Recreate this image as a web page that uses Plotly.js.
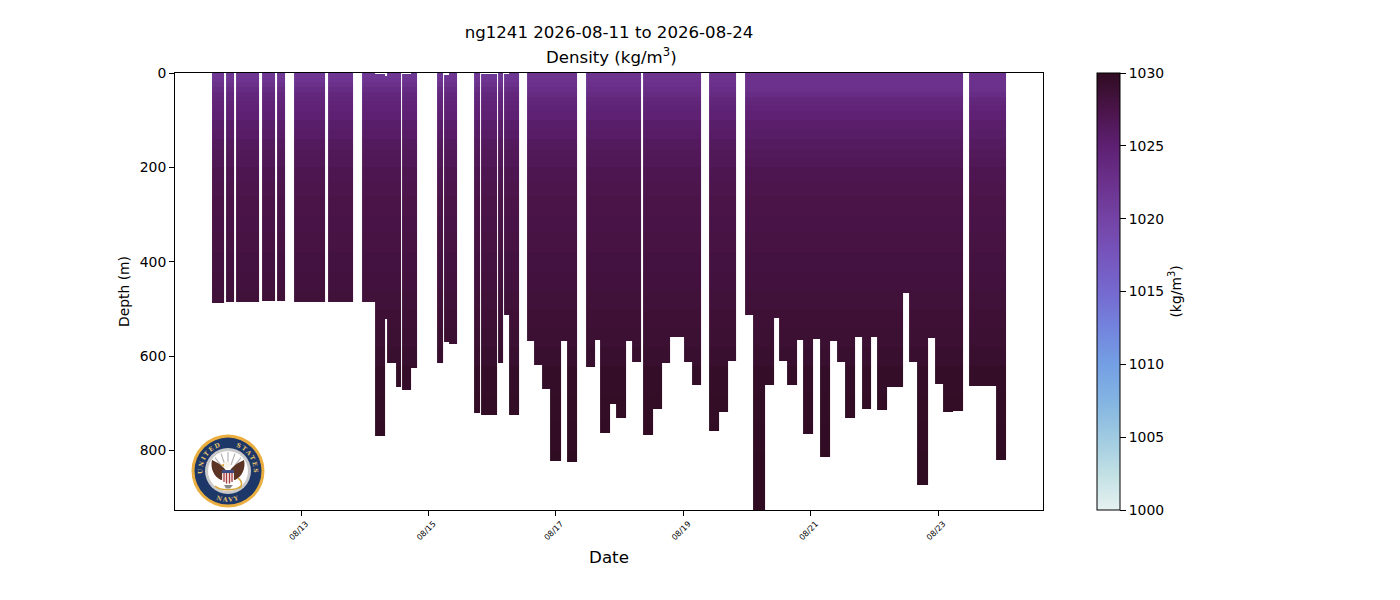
<!DOCTYPE html>
<html>
<head>
<meta charset="utf-8">
<script src="https://cdn.plot.ly/plotly-3.0.1.min.js"></script>
<style>html,body{margin:0;padding:0;background:#fff}</style>
</head>
<body>
<div id="chart" style="width:1400px;height:600px"></div>
<script>
// Profile blocks: start / end as decimal day of August 2026, top and bottom depth in metres
const segStart = [11.604,11.823,11.980,12.388,12.623,12.890,13.423,13.957,14.161,14.318,14.349,14.490,14.585,14.726,15.134,15.244,15.322,15.714,15.824,16.091,16.185,16.263,16.546,16.656,16.781,16.907,17.079,17.173,17.472,17.613,17.699,17.848,17.942,18.099,18.193,18.366,18.523,18.664,18.789,19.009,19.135,19.402,19.558,19.699,19.966,20.092,20.280,20.421,20.500,20.625,20.782,20.876,21.033,21.143,21.300,21.410,21.535,21.692,21.802,21.943,22.037,22.194,22.445,22.540,22.665,22.838,22.947,23.073,23.230,23.481,23.905];
const segEnd   = [11.792,11.949,12.341,12.592,12.749,13.376,13.816,14.161,14.318,14.349,14.490,14.569,14.726,14.820,15.228,15.322,15.447,15.809,16.075,16.169,16.263,16.420,16.656,16.781,16.907,17.079,17.173,17.338,17.613,17.699,17.848,17.942,18.099,18.193,18.334,18.523,18.664,18.789,19.009,19.135,19.276,19.558,19.699,19.825,20.092,20.280,20.421,20.500,20.625,20.782,20.876,21.033,21.143,21.300,21.410,21.535,21.692,21.802,21.943,22.037,22.194,22.445,22.540,22.665,22.838,22.947,23.073,23.230,23.387,23.905,24.062];
const segBottom = [487,486,486,484,483,485,485,485,770,522,615,665,672,625,615,570,575,721,725,615,513,725,568,618,670,822,568,824,622,565,763,702,730,567,613,767,712,615,560,613,662,759,719,611,513,925,661,520,611,662,566,765,564,814,568,613,731,560,711,560,714,666,467,612,873,562,658,718,716,663,820];
const segTop = [0,0,0,0,0,0,0,0,3,6,1,0,3,1,0,4,0,0,2,0,3,0,0,0,0,0,0,0,0,0,0,0,0,0,0,0,0,0,0,0,0,0,0,0,0,0,0,0,0,0,0,0,0,0,0,0,0,0,0,0,0,0,0,0,0,0,0,0,0,0,0];

// Density read at each depth, for the early, middle and late parts of the mission
const depthKnots   = [0,10,20,30,40,50,60,70,80,100,120,140,160,180,200,230,260,300,340,380,420,460,500,540,580,620,680,740,800,860];
const densityEarly = [1021.7,1022.0,1022.7,1023.4,1023.9,1024.2,1024.5,1024.7,1025.0,1025.5,1025.8,1026.2,1026.5,1026.7,1027.0,1027.3,1027.5,1027.7,1027.9,1028.1,1028.3,1028.5,1028.7,1028.9,1029.2,1029.6,1029.8,1029.9,1030.0,1030.0];
const densityMid   = [1022.2,1022.3,1022.6,1023.0,1023.5,1024.1,1024.4,1024.6,1024.9,1025.5,1025.8,1026.2,1026.5,1026.7,1027.0,1027.3,1027.5,1027.7,1027.9,1028.1,1028.3,1028.5,1028.7,1028.9,1029.2,1029.6,1029.8,1029.9,1030.0,1030.0];
const densityLate  = [1022.4,1022.5,1022.5,1022.7,1023.2,1024.0,1024.3,1024.5,1024.8,1025.4,1025.7,1026.1,1026.4,1026.7,1027.0,1027.3,1027.5,1027.7,1027.9,1028.1,1028.3,1028.5,1028.7,1028.9,1029.2,1029.6,1029.8,1029.9,1030.0,1030.0];
const midStartsDay  = 16.5;
const lateStartsDay = 19.9;

const tickDays   = ['2026-08-13','2026-08-15','2026-08-17','2026-08-19','2026-08-21','2026-08-23'];
const tickLabels = ['08/13','08/15','08/17','08/19','08/21','08/23'];
const depthRange = [926, 0];
const dateRange  = [11.023, 24.642];
const colorMin = 1000, colorMax = 1030;
const denseScale = [
  [0,'#e6f1f1'],[0.0833,'#c1e0e4'],[0.1667,'#9fcae1'],[0.25,'#83b4e2'],[0.3333,'#749fe4'],
  [0.4167,'#7384dd'],[0.5,'#7569cf'],[0.5833,'#7655bc'],[0.6667,'#7443a5'],[0.75,'#6b318c'],
  [0.8333,'#5d2072'],[0.9167,'#4a1449'],[1,'#300c22']];

const dayToIso = d => new Date(Date.UTC(2026,7,1) + (d-1)*86400000).toISOString().slice(0,19);

const xEdges = Array.from(new Set(segStart.concat(segEnd))).sort((a,b)=>a-b);
const yEdges = Array.from(new Set(depthKnots.concat(segBottom, segTop, [depthRange[0]]))).sort((a,b)=>a-b);

function densityAt(set, depth){
  let k = 0;
  for (let i=0;i<depthKnots.length;i++){ if (depthKnots[i] <= depth) k = i; }
  return set[k];
}
const z = [];
for (let r=0;r<yEdges.length-1;r++){
  const depth = (yEdges[r]+yEdges[r+1])/2, row = [];
  for (let c=0;c<xEdges.length-1;c++){
    const mid = (xEdges[c]+xEdges[c+1])/2;
    let val = null;
    for (let s=0;s<segStart.length;s++){
      if (mid>=segStart[s] && mid<segEnd[s] && depth<segBottom[s] && depth>=segTop[s]){
        const set = mid<midStartsDay ? densityEarly : (mid<lateStartsDay ? densityMid : densityLate);
        val = densityAt(set, depth);
      }
    }
    row.push(val);
  }
  z.push(row);
}

const seal = `<svg xmlns="http://www.w3.org/2000/svg" viewBox="0 0 148 148" width="296" height="296">
<defs><path id="a" d="M 26 92 A 51.3 51.3 0 1 1 122 92"/><path id="b" d="M 40 125 A 61.3 61.3 0 0 0 108 125"/></defs>
<circle cx="74" cy="74" r="73" fill="#e9ae3f"/><circle cx="74" cy="74" r="67" fill="#1c3768"/>
<circle cx="74" cy="74" r="46" fill="#c9c9c9"/><circle cx="74" cy="74" r="40" fill="#fff"/>
<g stroke="#b5b5b5" stroke-width="2.4"><path d="M74 36V62M60 39L68 62M88 39L80 62M48 47L62 65M100 47L86 65"/></g>
<text font-family="DejaVu Serif" font-weight="bold" font-size="12" fill="#e9c46a" letter-spacing="3"><textPath href="#a" startOffset="50%" text-anchor="middle">UNITED&#160;&#160;&#160;&#160;STATES</textPath></text>
<text font-family="DejaVu Serif" font-weight="bold" font-size="12" fill="#e9c46a" letter-spacing="3"><textPath href="#b" startOffset="50%" text-anchor="middle">NAVY</textPath></text>
<path d="M72 76C64 62 50 56 42 52C38 68 46 86 60 92L72 90Z" fill="#5b3426"/>
<path d="M76 76C84 62 98 56 106 52C110 68 102 86 88 92L76 90Z" fill="#5b3426"/>
<circle cx="72" cy="62" r="7" fill="#f6f3ea"/><path d="M66 60L58 62L66 65Z" fill="#d9a63a"/>
<path d="M62 72H86V92L74 100L62 92Z" fill="#f3e4e2"/><path d="M62 72H86V78H62Z" fill="#3a4a80"/>
<path d="M66 78V96M71 78V99M77 78V99M82 78V96" stroke="#a53a3f" stroke-width="2.4"/>
<path d="M48 104C58 114 90 114 100 104M94 88C106 96 100 108 96 108" fill="none" stroke="#d6a437" stroke-width="3"/>
<path d="M66 102H84L78 109H70Z" fill="#8a8a8a"/>
</svg>`;

const font = {family:'"DejaVu Sans", sans-serif', color:'#000'};
const trace = {
  type:'heatmap', x:xEdges.map(dayToIso), y:yEdges, z:z,
  zmin:colorMin, zmax:colorMax, colorscale:denseScale, hoverongaps:false, hoverinfo:'skip',
  colorbar:{
    x:(1097-175)/868, xanchor:'left', xpad:0, y:0.5, yanchor:'middle', ypad:0, len:1, lenmode:'fraction',
    thickness:23, thicknessmode:'pixels', outlinecolor:'#000', outlinewidth:1,
    ticks:'outside', ticklen:6, tickwidth:1, tickcolor:'#000', tick0:1000, dtick:5, tickformat:'d',
    tickfont:{...font,size:13.9},
    title:{text:'(kg/m<sup>3</sup>)', side:'right', font:{...font,size:13.9}}
  }
};
const layout = {
  width:1400, height:600, paper_bgcolor:'#fff', plot_bgcolor:'#fff', font:font,
  margin:{l:175, r:357, t:72.5, b:90, pad:0},
  title:{text:'ng1241 2026-08-11 to 2026-08-24', x:609/1400, xanchor:'center', xref:'container', y:0.947, yanchor:'middle', font:{...font,size:16.6}},
  annotations:[{text:'Density (kg/m<sup>3</sup>)', xref:'paper', yref:'paper', x:0.5, y:1, xanchor:'center', yanchor:'middle', xshift:2, yshift:17, showarrow:false, font:{...font,size:16.6}}],
  xaxis:{type:'date', range:dateRange.map(dayToIso), tickmode:'array', tickvals:tickDays, ticktext:tickLabels, tickangle:-45, ticklabelshift:5,
    tickfont:{...font,size:8}, ticks:'outside', ticklen:5, tickcolor:'#000', showgrid:false, zeroline:false, showline:true, linecolor:'#000', linewidth:1, mirror:true,
    title:{text:'Date', font:{...font,size:16.7}, standoff:10}},
  yaxis:{range:depthRange, tickmode:'array', tickvals:[0,200,400,600,800], ticks:'outside', ticklen:5, tickcolor:'#000', tickfont:{...font,size:13.9},
    showgrid:false, zeroline:false, showline:true, linecolor:'#000', linewidth:1, mirror:true,
    title:{text:'Depth (m)', font:{...font,size:13.9}, standoff:6}},
  images:[{source:'data:image/svg+xml;charset=utf-8,'+encodeURIComponent(seal), xref:'paper', yref:'paper',
    x:16/868, y:76/437.5, sizex:74/868, sizey:74/437.5, xanchor:'left', yanchor:'top', sizing:'stretch', layer:'above'}]
};
Plotly.newPlot('chart',[trace],layout,{displayModeBar:false,responsive:false});
</script>
</body>
</html>
